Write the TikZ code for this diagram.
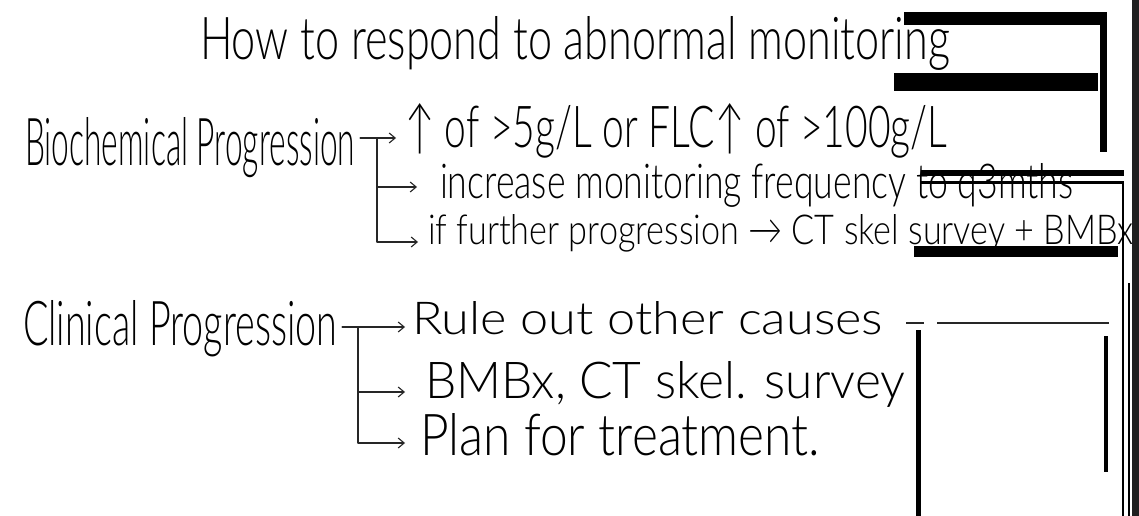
\documentclass[tikz,border=0pt]{standalone}
\usepackage{fontspec}
\usepackage{graphicx}
\usetikzlibrary{arrows.meta}
\definecolor{strip}{HTML}{1F1F1F}
\IfFontExistsTF{Lato Light}{\newfontfamily\handfont{Lato Light}}{%
  \IfFontExistsTF{Lato Thin}{\newfontfamily\handfont{Lato Thin}}{\newcommand\handfont{\sffamily}}}
\newcommand\hwtext[3]{\resizebox{#1pt}{#2pt}{\handfont #3}}
\begin{document}
\begin{tikzpicture}[x=1pt,y=-1pt,
  txt/.style={anchor=base west, inner sep=0pt, outer sep=0pt, text=black},
  conn/.style={line width=1.1pt, draw=black!85, line cap=round, line join=round},
  arr/.style={conn, -{Straight Barb[length=6pt,width=10pt]}},
  redact/.style={fill=black, draw=none},
  rule/.style={draw=black, line width=1.2pt}]
\useasboundingbox (0,0) rectangle (1139,516);
\fill[white] (0,0) rectangle (1139,516);

% texts
\node[txt] (title) at (200,60) {\hwtext{750}{43}{How to respond to abnormal monitoring}};
\node[txt] (bio) at (25,165) {\hwtext{330}{48}{Biochemical Progression}};
\node[txt] (b1) at (405,147) {\hwtext{542}{44}{↑ of >5g/L or FLC↑ of >100g/L}};
\node[txt] (b2) at (440,198) {\hwtext{633}{35}{increase monitoring frequency to q3mths}};
\node[txt] (b3) at (428,244) {\hwtext{705}{30}{if further progression → CT skel survey + BMBx}};
\node[txt] (cli) at (23,345) {\hwtext{314}{45}{Clinical Progression}};
\node[txt] (c1) at (412,334) {\hwtext{471}{33}{Rule out other causes}};
\node[txt] (c2) at (425,398) {\hwtext{480}{37}{BMBx, CT skel. survey}};
\node[txt] (c3) at (420,455) {\hwtext{400}{42}{Plan for treatment.}};

% biochemical connectors
\coordinate (bj) at (377,138);
\coordinate (bt1) at (396,138);
\coordinate (bj2) at (377,187);
\coordinate (bt2) at (417,187);
\coordinate (bj3) at (377,242);
\coordinate (bt3) at (418,242);
\draw[arr, shorten <=5pt] (bio.east |- bj) -- (bt1);
\draw[arr] (bj) -- (bj3) -- (bt3);
\draw[arr] (bj2) -- (bt2);

% clinical connectors
\coordinate (cj) at (358,327);
\coordinate (ct1) at (405,327);
\coordinate (cj2) at (358,392);
\coordinate (ct2) at (405,392);
\coordinate (cj3) at (358,443);
\coordinate (ct3) at (405,443);
\draw[arr, shorten <=5pt] (cli.east |- cj) -- (ct1);
\draw[arr] (cj) -- (cj3) -- (ct3);
\draw[arr] (cj2) -- (ct2);

% redaction marks
\fill[redact] (904,12) rectangle (1107,25);
\fill[redact] (1100,12) rectangle (1107,152);
\fill[redact] (894,73) rectangle (1098,91);
\fill[redact] (921,170) rectangle (1124,176);
\fill[redact] (921,181) rectangle (1124,184);
\fill[redact] (914,246) rectangle (1118,257);
\draw[rule] (1123,182) -- (1123,516);
\draw[rule] (1129,283) -- (1129,516);
\draw[rule, draw=black!85, line width=2pt] (906,323) -- (924,323);
\draw[rule, draw=black!85, line width=2pt] (937,323) -- (1109,323);
\fill[redact] (916,330) rectangle (921,516);
\fill[redact] (1104,336) rectangle (1108,472);
\fill[strip] (1132,0) rectangle (1139,516);
\end{tikzpicture}
\end{document}
